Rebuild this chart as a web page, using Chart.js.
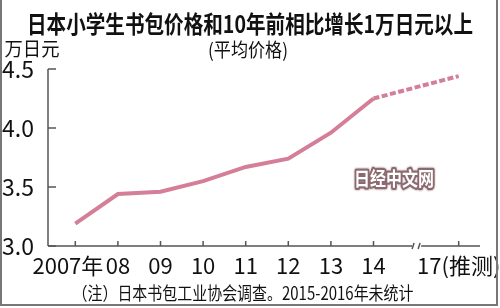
<!DOCTYPE html>
<html>
<head>
<meta charset="utf-8">
<script src="https://cdn.jsdelivr.net/npm/chart.js@4"></script>
<style>
  body { margin: 0; background: #fff; }
  #wrap { width: 500px; height: 308px; }
</style>
</head>
<body>
<div id="wrap"><canvas id="chart" width="500" height="308"></canvas></div>
<script>
// values (万日元)
const years = ['2007年', '08', '09', '10', '11', '12', '13', '14', '17(推测)'];
const prices = [3.19, 3.44, 3.46, 3.55, 3.67, 3.74, 3.96, 4.25, 4.44];
const yTicks = [3.0, 3.5, 4.0, 4.5];
const breakAfter = 7; // 2015-2016 not surveyed, axis is broken after '14'

const lineColor = 'rgb(212,126,152)';
const axisColor = '#555';
const narrow = '"Liberation Sans Narrow", "Noto Sans CJK SC", sans-serif';
const cjk = '"Noto Sans CJK SC", sans-serif';
const axisGap = 6; // y axis line sits a little left of the first slot

// insert an empty slot for the axis break
const labels = years.slice(0, breakAfter + 1).concat([''], years.slice(breakAfter + 1));
const values = prices.slice(0, breakAfter + 1).concat([null], prices.slice(breakAfter + 1));
const breakIndex = breakAfter + 1;

// draws text squeezed horizontally to a given width
function fitText(ctx, text, cx, cy, font, width, color) {
    ctx.save();
    ctx.font = font;
    ctx.textAlign = 'center';
    ctx.textBaseline = 'middle';
    const w = ctx.measureText(text).width;
    ctx.translate(cx, cy);
    ctx.scale(width / w, 1);
    ctx.fillStyle = color || '#111';
    ctx.fillText(text, 0, 0);
    ctx.restore();
}

const decor = {
    id: 'decor',
    beforeDraw(chart) {
        const ctx = chart.ctx;
        ctx.save();
        ctx.fillStyle = '#fff';
        ctx.fillRect(0, 0, chart.width, chart.height);
        ctx.restore();
    },
    afterDraw(chart) {
        const ctx = chart.ctx;
        const area = chart.chartArea;
        const x = chart.scales.x;
        const y = chart.scales.y;
        const ax = area.left - axisGap;

        ctx.save();
        ctx.strokeStyle = axisColor;
        ctx.lineWidth = 1.5;

        // y axis + inward ticks
        ctx.beginPath();
        ctx.moveTo(ax, y.getPixelForValue(yTicks[yTicks.length - 1]));
        ctx.lineTo(ax, area.bottom);
        yTicks.forEach(v => {
            const py = y.getPixelForValue(v);
            ctx.moveTo(ax, py);
            ctx.lineTo(ax + 8, py);
        });
        ctx.stroke();

        // x axis with break
        const bx = x.getPixelForValue(breakIndex);
        ctx.beginPath();
        ctx.moveTo(ax, area.bottom);
        ctx.lineTo(bx - 4, area.bottom);
        ctx.moveTo(bx + 5, area.bottom);
        ctx.lineTo(area.right, area.bottom);
        labels.forEach((l, i) => {
            if (!l) return;
            const px = x.getPixelForValue(i);
            ctx.moveTo(px, area.bottom);
            ctx.lineTo(px, area.bottom - 5);
        });
        ctx.stroke();
        ctx.beginPath();
        ctx.moveTo(bx - 4, area.bottom + 3);
        ctx.lineTo(bx - 2, area.bottom - 3);
        ctx.moveTo(bx + 2, area.bottom + 3);
        ctx.lineTo(bx + 4, area.bottom - 3);
        ctx.stroke();

        // outer frame
        ctx.strokeStyle = '#777';
        ctx.lineWidth = 2;
        ctx.beginPath();
        ctx.moveTo(1, 0);
        ctx.lineTo(1, 305);
        ctx.lineTo(497, 305);
        ctx.lineTo(497, 0);
        ctx.stroke();
        ctx.restore();

        // texts
        fitText(ctx, '日本小学生书包价格和10年前相比增长1万日元以上', 250, 24, 'bold 24px ' + cjk, 446);
        fitText(ctx, '万日元', 32, 49, '19px ' + cjk, 55);
        fitText(ctx, '(平均价格)', 248, 50, '19px ' + cjk, 80);
        fitText(ctx, '（注）日本书包工业协会调查。2015-2016年未统计', 243, 293, '18px ' + cjk, 341);

        // watermark
        ctx.save();
        ctx.font = 'bold 19px ' + cjk;
        ctx.textAlign = 'center';
        ctx.textBaseline = 'middle';
        const w = ctx.measureText('日经中文网').width;
        ctx.translate(394, 179);
        ctx.scale(80 / w, 1);
        ctx.lineJoin = 'round';
        ctx.strokeStyle = '#ece2e2';
        ctx.lineWidth = 7;
        ctx.strokeText('日经中文网', 0, 0);
        ctx.strokeStyle = '#8a6a6e';
        ctx.lineWidth = 4.5;
        ctx.strokeText('日经中文网', 0, 0);
        ctx.fillStyle = '#fff';
        ctx.fillText('日经中文网', 0, 0);
        ctx.restore();
    }
};

new Chart(document.getElementById('chart'), {
    type: 'line',
    data: {
        labels: labels,
        datasets: [{
            data: values,
            borderColor: lineColor,
            borderWidth: 4,
            pointRadius: 0,
            tension: 0,
            spanGaps: true,
            segment: {
                borderDash: ctx => ctx.p1DataIndex > breakAfter ? [6, 2.5] : undefined
            }
        }]
    },
    options: {
        responsive: false,
        animation: false,
        devicePixelRatio: 1,
        layout: { padding: { top: 69, right: 20, left: 0, bottom: 0 } },
        plugins: { legend: { display: false }, tooltip: { enabled: false } },
        scales: {
            x: {
                offset: true,
                grid: { display: false },
                border: { display: false },
                ticks: {
                    color: '#111',
                    font: { family: narrow, size: 22 },
                    padding: -2,
                    maxRotation: 0,
                    minRotation: 0,
                    autoSkip: false,
                    // first label sits a bit left of its tick in the original
                    callback: function(v, i) {
                        const l = this.getLabelForValue(v);
                        return i === 0 ? l + '   ' : l;
                    }
                },
                afterFit: s => { s.height = 62; }
            },
            y: {
                min: 3,
                max: 4.5,
                grid: { display: false },
                border: { display: false },
                afterBuildTicks: s => { s.ticks = yTicks.map(v => ({ value: v })); },
                ticks: {
                    color: '#111',
                    font: { family: narrow, size: 23 },
                    padding: 6 + axisGap,
                    callback: v => v.toFixed(1)
                },
                afterFit: s => { s.width = 48 + axisGap; }
            }
        }
    },
    plugins: [decor]
});
</script>
</body>
</html>
